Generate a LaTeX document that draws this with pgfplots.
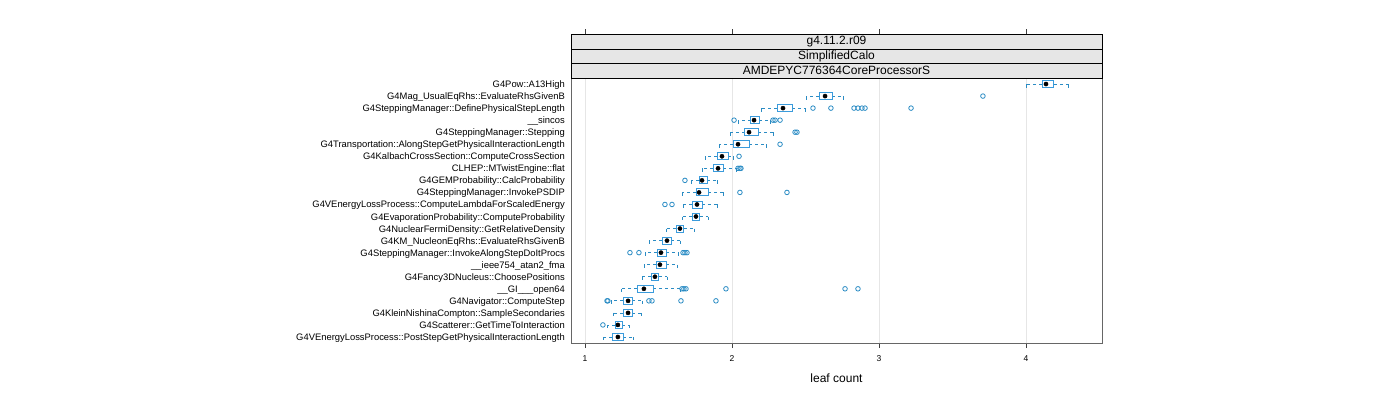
\documentclass[border=0pt]{standalone}
\usepackage{fontspec}
\setmainfont{Liberation Sans}
\usepackage{pgfplots}
\pgfplotsset{compat=1.18}
\definecolor{boxblue}{HTML}{2B8CC4}
\definecolor{boxedge}{HTML}{3A9BDC}
\definecolor{stripgray}{HTML}{E6E6E6}
\definecolor{gridgray}{HTML}{E6E6E6}
\pgfdeclareplotmark{capd}{\pgfpathmoveto{\pgfpointorigin}\pgfpathlineto{\pgfpoint{0pt}{-3.5bp}}\pgfusepathqstroke}
\pgfplotsset{
  whisk/.style={boxblue, line width=0.7bp, dash pattern=on 3bp off 3bp, mark=capd, mark indices={2}, mark options={solid}},
  outl/.style={only marks, mark=o, mark size=2.3bp, boxblue, mark options={line width=0.8bp}},
}
% y, lower whisker, lower quartile, median, upper quartile, upper whisker
\newcommand{\bw}[6]{%
  \pgfmathsetmacro{\ylo}{#1-0.29}%
  \pgfmathsetmacro{\yhi}{#1+0.29}%
  \addplot[whisk] coordinates {(#3,#1) (#2,#1)};
  \addplot[whisk] coordinates {(#5,#1) (#6,#1)};
  \addplot[draw=boxedge, fill=white, line width=0.9bp] coordinates {(#3,\ylo) (#5,\ylo) (#5,\yhi) (#3,\yhi)} -- cycle;
  \addplot[only marks, mark=*, mark size=2.1bp, black] coordinates {(#4,#1)};
}
\begin{document}
\begin{tikzpicture}
\useasboundingbox (0,0) rectangle (1400bp,400bp);
\begin{axis}[
  at={(571bp,57bp)}, anchor=south west,
  scale only axis, width=531bp, height=265bp,
  xmin=0.905, xmax=4.517, ymin=0.5, ymax=22.5,
  xtick={1,2,3,4}, ytick={1,...,22},
  yticklabels={
    {G4VEnergyLossProcess::PostStepGetPhysicalInteractionLength},
    {G4Scatterer::GetTimeToInteraction},
    {G4KleinNishinaCompton::SampleSecondaries},
    {G4Navigator::ComputeStep},
    {\_\_GI\_\_\_open64},
    {G4Fancy3DNucleus::ChoosePositions},
    {\_\_ieee754\_atan2\_fma},
    {G4SteppingManager::InvokeAlongStepDoItProcs},
    {G4KM\_NucleonEqRhs::EvaluateRhsGivenB},
    {G4NuclearFermiDensity::GetRelativeDensity},
    {G4EvaporationProbability::ComputeProbability},
    {G4VEnergyLossProcess::ComputeLambdaForScaledEnergy},
    {G4SteppingManager::InvokePSDIP},
    {G4GEMProbability::CalcProbability},
    {CLHEP::MTwistEngine::flat},
    {G4KalbachCrossSection::ComputeCrossSection},
    {G4Transportation::AlongStepGetPhysicalInteractionLength},
    {G4SteppingManager::Stepping},
    {\_\_sincos},
    {G4SteppingManager::DefinePhysicalStepLength},
    {G4Mag\_UsualEqRhs::EvaluateRhsGivenB},
    {G4Pow::A13High}},
  xtick pos=bottom, ytick pos=left,
  tick align=outside, major tick length=5bp,
  ytick style={draw=none},
  xtick style={black!75, line width=0.8bp},
  axis line style={black!60, line width=1bp},
  xmajorgrids, major grid style={gridgray, line width=0.6bp},
  /pgf/number format/assume math mode=true,
  xticklabel style={font=\fontsize{8.5bp}{10bp}\selectfont, inner sep=0pt, yshift=-7bp},
  yticklabel style={font=\fontsize{9.4bp}{11bp}\selectfont, inner sep=0pt, xshift=-1bp, text height=0.7em, text depth=0pt},
  xlabel={leaf count},
  xlabel style={at={(axis description cs:0.5,-0.132)}, anchor=center, font=\fontsize{12bp}{14bp}\selectfont},
  clip=false,
]
\bw{22}{4.000}{4.109}{4.136}{4.190}{4.290}
\bw{21}{2.503}{2.592}{2.633}{2.680}{2.755}
\addplot[outl] coordinates {(3.707,21)};
\bw{20}{2.197}{2.306}{2.347}{2.408}{2.497}
\addplot[outl] coordinates {(2.551,20) (2.673,20) (2.830,20) (2.857,20) (2.884,20) (2.905,20) (3.218,20)};
\bw{19}{2.041}{2.129}{2.150}{2.184}{2.259}
\addplot[outl] coordinates {(2.014,19) (2.279,19) (2.293,19) (2.327,19)};
\bw{18}{1.986}{2.088}{2.116}{2.177}{2.279}
\addplot[outl] coordinates {(2.429,18) (2.442,18)};
\bw{17}{1.912}{2.007}{2.041}{2.116}{2.231}
\addplot[outl] coordinates {(2.327,17)};
\bw{16}{1.816}{1.898}{1.932}{1.973}{2.007}
\addplot[outl] coordinates {(2.048,16)};
\bw{15}{1.796}{1.871}{1.905}{1.939}{2.027}
\addplot[outl] coordinates {(2.041,15) (2.054,15) (2.061,15)};
\bw{14}{1.721}{1.776}{1.796}{1.830}{1.898}
\addplot[outl] coordinates {(1.680,14)};
\bw{13}{1.660}{1.755}{1.776}{1.837}{1.939}
\addplot[outl] coordinates {(2.054,13) (2.374,13)};
\bw{12}{1.667}{1.728}{1.762}{1.796}{1.898}
\addplot[outl] coordinates {(1.544,12) (1.592,12)};
\bw{11}{1.660}{1.728}{1.755}{1.782}{1.837}
\bw{10}{1.551}{1.619}{1.646}{1.673}{1.741}
\bw{9}{1.435}{1.524}{1.558}{1.585}{1.646}
\bw{8}{1.408}{1.490}{1.517}{1.551}{1.633}
\addplot[outl] coordinates {(1.306,8) (1.367,8) (1.667,8) (1.680,8) (1.694,8)};
\bw{7}{1.401}{1.483}{1.510}{1.551}{1.626}
\bw{6}{1.388}{1.449}{1.476}{1.503}{1.558}
\bw{5}{1.245}{1.354}{1.401}{1.463}{1.646}
\addplot[outl] coordinates {(1.660,5) (1.673,5) (1.687,5) (1.959,5) (2.769,5) (2.857,5)};
\bw{4}{1.177}{1.259}{1.293}{1.320}{1.388}
\addplot[outl] coordinates {(1.150,4) (1.156,4) (1.435,4) (1.456,4) (1.653,4) (1.891,4)};
\bw{3}{1.190}{1.259}{1.293}{1.320}{1.381}
\bw{2}{1.150}{1.204}{1.224}{1.252}{1.299}
\addplot[outl] coordinates {(1.122,2)};
\bw{1}{1.122}{1.184}{1.224}{1.259}{1.327}
% strips
\draw[fill=stripgray, line width=0.8bp] (rel axis cs:0,1) rectangle (rel axis cs:1,1.0547);
\draw[fill=stripgray, line width=0.8bp] (rel axis cs:0,1.0547) rectangle (rel axis cs:1,1.1094);
\draw[fill=stripgray, line width=0.8bp] (rel axis cs:0,1.1094) rectangle (rel axis cs:1,1.1649);
\node[font=\fontsize{12bp}{14bp}\selectfont] at (rel axis cs:0.5,1.0273) {AMDEPYC776364CoreProcessorS};
\node[font=\fontsize{12bp}{14bp}\selectfont] at (rel axis cs:0.5,1.0820) {SimplifiedCalo};
\node[font=\fontsize{12bp}{14bp}\selectfont] at (rel axis cs:0.5,1.1371) {g4.11.2.r09};
\draw[black!75, line width=0.8bp] ({axis cs:1,0}|-{rel axis cs:0,1.1649}) -- ({axis cs:1,0}|-{rel axis cs:0,1.1838});
\draw[black!75, line width=0.8bp] ({axis cs:2,0}|-{rel axis cs:0,1.1649}) -- ({axis cs:2,0}|-{rel axis cs:0,1.1838});
\draw[black!75, line width=0.8bp] ({axis cs:3,0}|-{rel axis cs:0,1.1649}) -- ({axis cs:3,0}|-{rel axis cs:0,1.1838});
\draw[black!75, line width=0.8bp] ({axis cs:4,0}|-{rel axis cs:0,1.1649}) -- ({axis cs:4,0}|-{rel axis cs:0,1.1838});
\end{axis}
\end{tikzpicture}
\end{document}
